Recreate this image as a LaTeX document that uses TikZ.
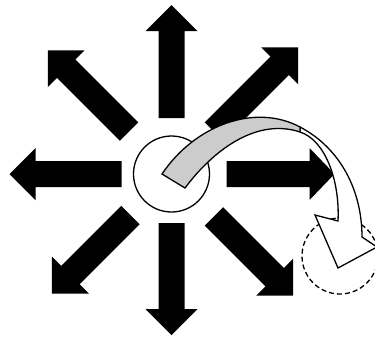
\documentclass[tikz,border=0pt]{standalone}
\usepackage{tikz}
\usetikzlibrary{calc}

\begin{document}
\begin{tikzpicture}[x=1pt, y=-1pt]
		\useasboundingbox (0,0) rectangle (375,338);
		\clip (0,0) rectangle (375,338);
		
		% 中心
		\coordinate (O) at (171.5,174);
		
		% 八个方向的箭头
		\foreach \ang/\ra/\rb/\rc in {0/55/138/163, 90/56/143/169, 180/50/136/162, 270/49/135/161, 45/60/153/179, 135/60/149/175, 225/58/143/169, 315/60/146/172} {
			\fill[black, shift={(O)}, rotate=\ang] (\ra,-13) -- (\rb,-13) -- (\rb,-26) -- (\rc,0) -- (\rb,26) -- (\rb,13) -- (\ra,13) -- cycle;
		}
		
		% 圆
		\node[circle, draw, fill=white, line width=1.3pt, minimum size=76pt, inner sep=0pt] (hub) at (O) {};
		\node[circle, draw, dash pattern=on 5pt off 3pt, line width=1.3pt, minimum size=76pt, inner sep=0pt] (ghost) at (340,256) {};
		
		% 弯箭头的点
		\coordinate (A) at (162,174);
		\coordinate (B) at (185,188);
		\coordinate (P) at (300,127);
		\coordinate (Q) at (300,132);
		\coordinate (L) at (338,221);
		\coordinate (R) at (362,237);
		
		% 白色部分 + 箭头
		\filldraw[fill=white, line width=1.3pt, line join=miter] (P) .. controls (340,148) and (362,190) .. (R) -- (377,247) -- (338,268) -- (315,215) -- (L) .. controls (340,180) and (325,140) .. (Q) -- cycle;
		
		% 灰色部分
		\filldraw[fill=gray!40, line width=1.3pt, line join=miter] (A) .. controls (195,125) and (255,103) .. (P) -- (Q) .. controls (258,118) and (215,148) .. (B) -- cycle;
	\end{tikzpicture}
\end{document}
